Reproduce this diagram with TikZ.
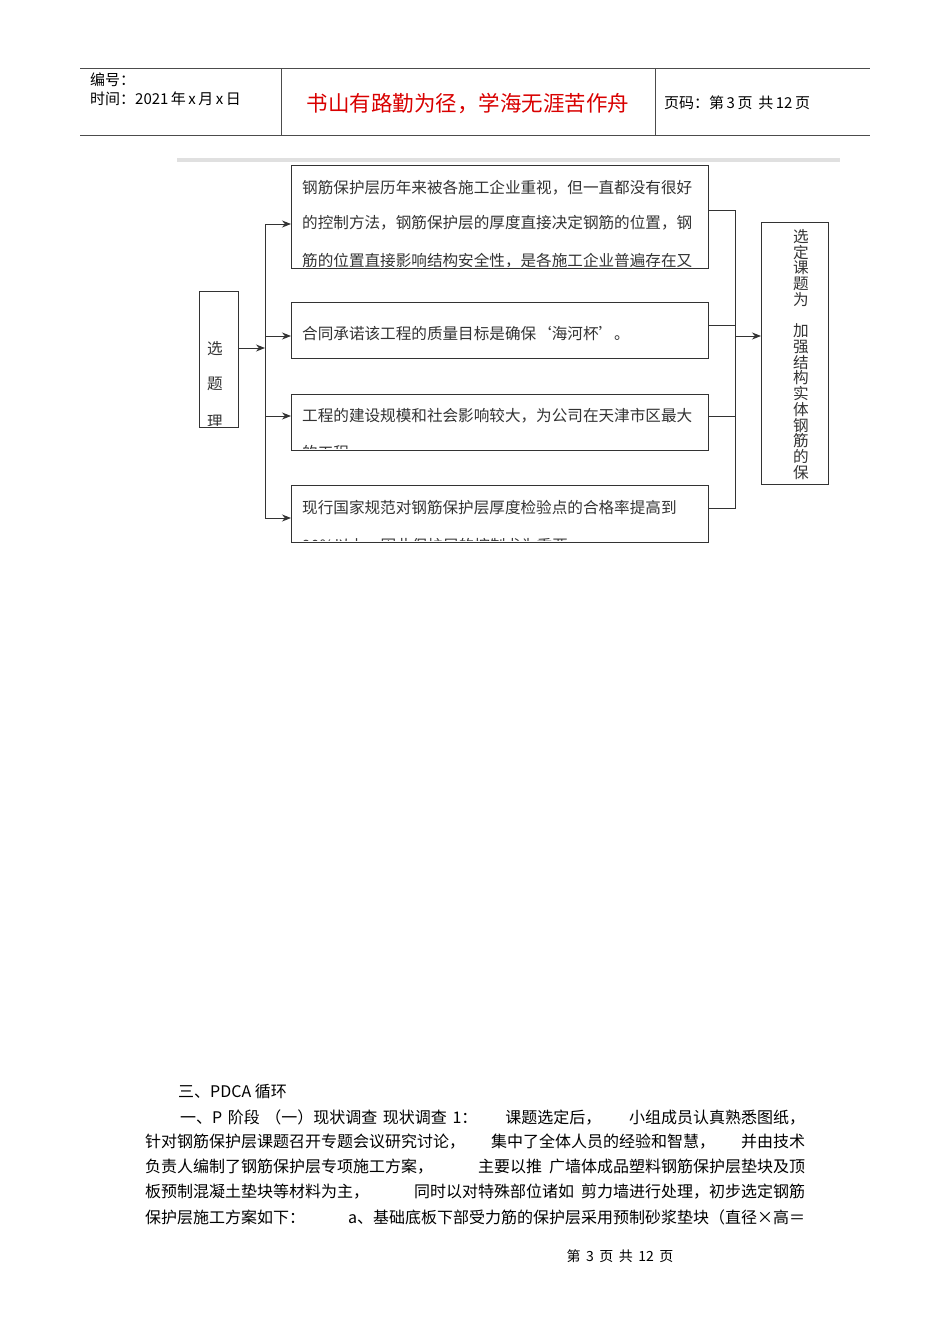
\documentclass[tikz,border=0pt]{standalone}
\usepackage{fontspec}
\usetikzlibrary{arrows.meta}
\setmainfont{Noto Sans CJK SC}
\newcommand\jline[2]{\hbox to #1{#2}}
\newcommand\gp{\hskip 6pt plus 20pt\relax}
\begin{document}
\begin{tikzpicture}[x=1pt,y=-1pt,
  box/.style={draw=black!80,line width=0.9pt},
  conn/.style={draw=black!80,line width=0.9pt},
  arr/.style={conn,-{Stealth[length=9pt,width=7pt]}},
  txt/.style={anchor=west,inner sep=0pt,font=\fontsize{15.6}{17}\selectfont,text=black!80},
  body/.style={anchor=west,inner sep=0pt,font=\fontsize{16}{18}\selectfont}]
\useasboundingbox[fill=white] (0,0) rectangle (950,1344);
% header
\draw[line width=0.8pt,black!70] (80,68) -- (870,68) (80,135) -- (870,135) (281,68) -- (281,135) (655,68) -- (655,135);
\node[body,font=\fontsize{15}{17}\selectfont] (h1) at (90,80) {编号：};
\node[body,font=\fontsize{15}{17}\selectfont] (h2) at (90,99) {时间：2021\,年\,x\,月\,x\,日};
\node[inner sep=0pt,font=\fontsize{21.5}{23}\selectfont,text=red!85!black] (h3) at (468,104) {书山有路勤为径，学海无涯苦作舟};
\node[body,font=\fontsize{15}{17}\selectfont] (h4) at (664,103) {页码：第\,3\,页 \,共\,12\,页};
\fill[black!12] (177,158) rectangle (840,162);
% boxes
\node[box,minimum width=417,minimum height=103,anchor=north west,inner sep=0] (b1) at (291,165) {};
\node[box,minimum width=417,minimum height=56,anchor=north west,inner sep=0] (b2) at (291,302) {};
\node[box,minimum width=417,minimum height=56,anchor=north west,inner sep=0] (b3) at (291,394) {};
\node[box,minimum width=417,minimum height=57,anchor=north west,inner sep=0] (b4) at (291,485) {};
\node[box,minimum width=39,minimum height=136,anchor=north west,inner sep=0] (L) at (199,291) {};
\node[box,minimum width=67,minimum height=262,anchor=north west,inner sep=0] (R) at (761,222) {};
\begin{scope}
\clip (291,165) rectangle (708,266);
\node[txt] (t11) at (302,188) {钢筋保护层历年来被各施工企业重视，但一直都没有很好};
\node[txt] (t12) at (302,223) {的控制方法，钢筋保护层的厚度直接决定钢筋的位置，钢};
\node[txt] (t13) at (302,261) {筋的位置直接影响结构安全性，是各施工企业普遍存在又};
\end{scope}
\node[txt] (t2) at (302,334) {合同承诺该工程的质量目标是确保‘海河杯’。};
\begin{scope}
\clip (291,394) rectangle (708,448);
\node[txt] (t31) at (302,416) {工程的建设规模和社会影响较大，为公司在天津市区最大};
\node[txt] (t32) at (302,453) {的工程。};
\end{scope}
\begin{scope}
\clip (291,485) rectangle (708,540);
\node[txt] (t41) at (302,508) {现行国家规范对钢筋保护层厚度检验点的合格率提高到};
\node[txt] (t42) at (302,546) {90\%以上，因此保护层的控制尤为重要。};
\end{scope}
\begin{scope}
\clip (199,291) rectangle (238,425);
\node[txt,anchor=center] (l1) at (215,349) {选};
\node[txt,anchor=center] (l2) at (215,384) {题};
\node[txt,anchor=center] (l3) at (215,422) {理};
\end{scope}
\foreach \c [count=\i] in {选,定,课,题,为,{},加,强,结,构,实,体,钢,筋,的,保}
  \node[txt,anchor=center] at (801,{221+\i*15.7}) {\c};
% connectors
\coordinate (jl) at (265,348);
\draw[arr] (L.east |- jl) -- (jl);
\draw[conn] (265,224) -- (265,518);
\draw[arr] (265,224) -- (b1.west |- 0,224);
\draw[arr] (265,336) -- (b2.west |- 0,336);
\draw[arr] (265,416) -- (b3.west |- 0,416);
\draw[arr] (265,518) -- (b4.west |- 0,518);
\draw[conn] (b1.east |- 0,210) -- (735,210) -- (735,508) -- (b4.east |- 0,508);
\draw[conn] (b2.east |- 0,325) -- (735,325);
\draw[conn] (b3.east |- 0,416) -- (735,416);
\draw[arr] (735,336) -- (R.west |- 0,336);
% body text
\node[body] (p1) at (178,1091) {三、PDCA 循环};
\node[body] (p2) at (180,1117) {\jline{625pt}{一、P 阶段 （一）现状调查 现状调查 1：\gp 课题选定后，\gp 小组成员认真熟悉图纸，}};
\node[body] (p3) at (145,1142) {\jline{660pt}{针对钢筋保护层课题召开专题会议研究讨论，\gp 集中了全体人员的经验和智慧，\gp 并由技术}};
\node[body] (p4) at (145,1167) {\jline{660pt}{负责人编制了钢筋保护层专项施工方案，\gp 主要以推 广墙体成品塑料钢筋保护层垫块及顶}};
\node[body] (p5) at (145,1192) {\jline{660pt}{板预制混凝土垫块等材料为主，\gp 同时以对特殊部位诸如 剪力墙进行处理，初步选定钢筋}};
\node[body] (p6) at (145,1217) {\jline{660pt}{保护层施工方案如下：\gp a、基础底板下部受力筋的保护层采用预制砂浆垫块（直径×高＝}};
\node[body,anchor=center,font=\fontsize{14}{16}\selectfont] (ft) at (620,1256) {第 \,3\, 页 \,共 \,12\, 页};
\end{tikzpicture}
\end{document}
